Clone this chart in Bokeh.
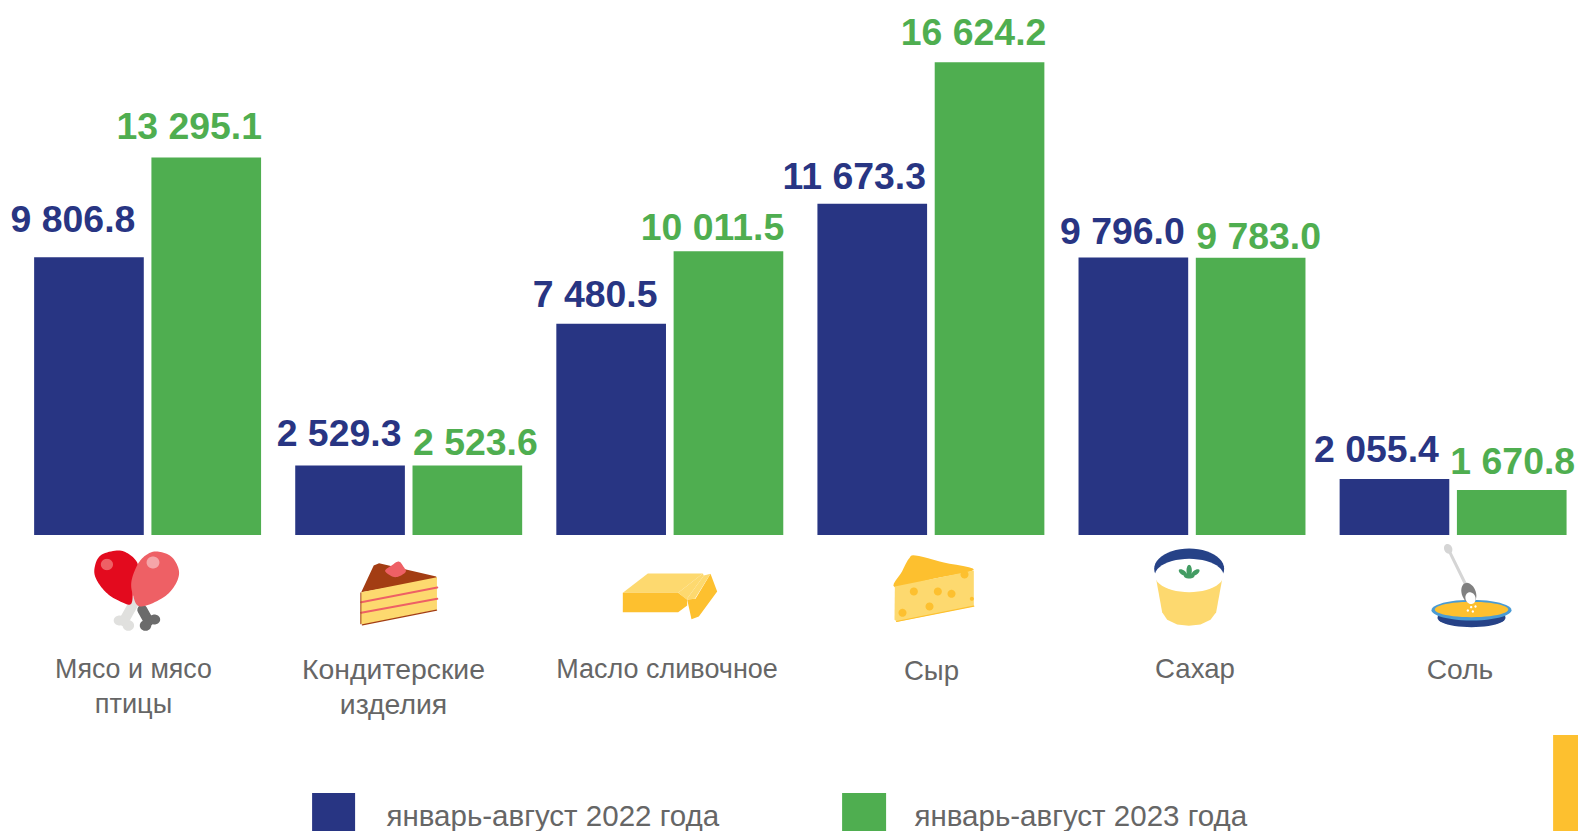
import numpy as np
from bokeh.plotting import figure
from bokeh.models import Range1d, ColumnDataSource
from bokeh.core.properties import value
from bokeh.embed import file_html
from bokeh.resources import INLINE

categories = ["Мясо и мясо птицы", "Кондитерские изделия", "Масло сливочное", "Сыр", "Сахар", "Соль"]
values_2022 = [9806.8, 2529.3, 7480.5, 11673.3, 9796.0, 2055.4]
values_2023 = [13295.1, 2523.6, 10011.5, 16624.2, 9783.0, 1670.8]
series_names = ["январь-август 2022 года", "январь-август 2023 года"]

NAVY, GREEN, YELLOW, GRAY = "#283583", "#4FAE50", "#FDC02F", "#666666"
FONT = value("Liberation Sans")
W, H = 1578, 831
ORG = 0  # page position of the figure's corner

# label nudges in px: horizontal shift from bar centre, gap above bar top
dx_22 = [-16, -11, -16, -18, -11, -18]
dy_22 = [-24, -19, -16, -14, -13, -16]
dx_23 = [-17, 8, -16, -16, 8, 1]
dy_23 = [-18, -10, -11, -16, -8, -15]
VSHIFT = -13.7  # the svg text baseline sits lower than asked

# scales: one group = 261.1 px, the axis floor (value 100) at page y 534.4
AXIS_MIN = 100
PITCH, K, BASE, CENTER0 = 261.1, 0.02861, 534.4 + 100 * 0.02861, 147.1
p = figure(width=W, height=H, output_backend="svg", toolbar_location=None,
           x_range=Range1d((ORG - CENTER0) / PITCH, (ORG + W - CENTER0) / PITCH),
           y_range=Range1d((BASE - (ORG + H)) / K, (BASE - ORG) / K),
           x_axis_location=None, y_axis_location=None, min_border=0)
p.grid.visible = False
p.outline_line_color = None
p.background_fill_color = "white"
p.extra_x_ranges["px"] = Range1d(ORG, ORG + W)
p.extra_y_ranges["px"] = Range1d(ORG + H, ORG)
PX = dict(x_range_name="px", y_range_name="px")

OFF, BW = 0.2246, 0.42
idx = np.arange(len(categories))
fmt = lambda v: f"{v:,.1f}".replace(",", " ")
for vals, off, col, dx, dy in [(values_2022, -OFF, NAVY, dx_22, dy_22), (values_2023, OFF, GREEN, dx_23, dy_23)]:
    src = ColumnDataSource(dict(x=idx + off, top=vals, label=[fmt(v) for v in vals], dx=dx,
                                dy=[d + VSHIFT for d in dy]))
    p.vbar(x="x", top="top", bottom=AXIS_MIN, width=BW, fill_color=col, line_color=None, source=src)
    p.text(x="x", y="top", text="label", x_offset="dx", y_offset="dy", source=src, text_color=col,
           text_font=FONT, text_font_style="bold", text_font_size="37.4px", text_align="center",
           text_baseline="alphabetic")

# category labels, broken over lines; the reference squeezes them, so sizes differ a little
cat_lines = [("Мясо и мясо", 133, 668, "26.8px"), ("птицы", 133, 703, "27.2px"),
             ("Кондитерские", 393, 668, "28.4px"), ("изделия", 393, 703, "28.4px"),
             ("Масло сливочное", 666.5, 668, "27px"), ("Сыр", 931, 670, "27.6px"),
             ("Сахар", 1194.5, 668, "27.6px"), ("Соль", 1459.5, 668, "28.2px")]
cat_src = ColumnDataSource(dict(x=[c[1] for c in cat_lines], y=[c[2] for c in cat_lines],
                                t=[c[0] for c in cat_lines], fs=[c[3] for c in cat_lines]))
p.text(x="x", y="y", text="t", source=cat_src, **PX, text_color=GRAY, text_font=FONT,
       text_font_size="fs", text_align="center", text_baseline="alphabetic")

# legend
p.quad(left=[311.6, 841.6], right=[354.6, 885.6], top=[792.6, 792.6], bottom=[831, 831],
       fill_color=[NAVY, GREEN], line_color=None, **PX)
p.text(x=[386, 914], y=[815, 815], text=series_names, **PX, text_color=GRAY, text_font=FONT,
       text_font_size="29.5px", text_align="left", text_baseline="alphabetic")
# yellow corner block
p.quad(left=[1552.6], right=[1578], top=[734.6], bottom=[831], fill_color=YELLOW, line_color=None, **PX)


# ---- pictograms, drawn from zoom-crop coordinates ----
def smooth(pts, n=10):
    pts = np.array(pts, float)
    out = []
    m = len(pts)
    for i in range(m):
        a, b, c, d = pts[(i - 1) % m], pts[i], pts[(i + 1) % m], pts[(i + 2) % m]
        for t in np.linspace(0, 1, n, endpoint=False):
            out.append(0.5 * (2 * b + (c - a) * t + (2 * a - 5 * b + 4 * c - d) * t ** 2 + (3 * b - a - 3 * c + d) * t ** 3))
    return np.array(out)


def ell(cx, cy, rx, ry, deg=0):
    t = np.linspace(0, 2 * np.pi, 48, endpoint=False)
    r = np.radians(deg)
    x, y = rx * np.cos(t), ry * np.sin(t)
    return np.c_[cx + x * np.cos(r) - y * np.sin(r), cy + x * np.sin(r) + y * np.cos(r)]


def mapper(sx, sy, ox, oy):
    def draw(pts, color):
        pts = np.array(pts, float)
        p.patch(ox + pts[:, 0] / sx, oy + pts[:, 1] / sy, color=color, line_width=0, **PX)
    def stroke(pts, color, w):
        pts = np.array(pts, float)
        p.line(ox + pts[:, 0] / sx, oy + pts[:, 1] / sy, color=color, line_width=w, line_cap="round", **PX)
    return draw, stroke


BONE_L, BONE_D, RED, PINK, PINK_L = "#E0E0DE", "#6B6B6B", "#E30A1E", "#EE6065", "#F5A5A8"
BROWN, CREAM, LEAF, SKY, ICE = "#A33D13", "#FDD96F", "#439C63", "#4A9BD4", "#264287"

d, s = mapper(2.8, 3, 0, 530)
# drumsticks
s([(375, 215), (345, 272)], BONE_L, 10)
d(ell(333, 270, 16, 15), BONE_L)
d(ell(358, 285, 16, 16), BONE_L)
s([(397, 238), (415, 272)], BONE_D, 10)
d(ell(431, 267, 16, 15), BONE_D)
d(ell(406, 285, 16, 16), BONE_D)
d(smooth([(330, 60), (365, 75), (385, 105), (372, 150), (367, 218), (340, 215), (300, 190), (270, 150), (263, 115), (280, 75)]), RED)
d(smooth([(440, 63), (480, 80), (500, 125), (485, 170), (450, 205), (390, 228), (370, 190), (367, 150), (385, 100), (410, 72)]), PINK)
d(ell(298, 102, 17, 17), PINK)
d(ell(427, 96, 18, 18), PINK_L)
# cake
d([(1010, 185), (1045, 105), (1060, 98), (1220, 138), (1222, 146)], BROWN)
d([(1010, 185), (1222, 140), (1222, 238), (1015, 283), (1008, 278)], CREAM)
s([(1010, 215), (1223, 171)], PINK, 2)
s([(1010, 247), (1223, 205)], PINK, 2)
s([(1013, 283), (1221, 239)], BROWN, 1.2)
s([(1009, 187), (1009, 280)], BROWN, 1)
d(smooth([(1077, 122), (1095, 105), (1115, 93), (1128, 108), (1134, 125), (1105, 140)]), PINK)

d, s = mapper(3, 3, 560, 530)
# butter
d([(187, 187), (262, 129), (427, 129), (353, 187)], CREAM)
d([(187, 187), (353, 187), (380, 207), (380, 225), (353, 245), (187, 245)], YELLOW)
d([(380, 207), (405, 205), (450, 130), (470, 183), (415, 258), (393, 266)], YELLOW)
d([(353, 187), (427, 129), (430, 135), (378, 207)], CREAM)
d([(378, 207), (430, 135), (450, 130), (403, 205)], CREAM)
# cheese
d(smooth([(1003, 170), (1025, 122), (1045, 85), (1065, 75), (1150, 96), (1240, 118), (1120, 145)], 6), YELLOW)
d([(1003, 168), (1240, 120), (1240, 227), (1010, 274), (1002, 268)], CREAM)
s([(1008, 273), (1240, 227)], YELLOW, 1.2)
for cx, cy, r in [(1060, 183, 12), (1132, 183, 12), (1173, 190, 12), (1107, 228, 12), (1026, 247, 12), (1212, 132, 12), (1234, 205, 6)]:
    d(ell(cx, cy, r, r), YELLOW)

d, s = mapper(3, 3, 1060, 530)
# sugar bowl
d([(285, 135), (487, 135), (467, 245), (450, 268), (420, 282), (385, 286), (350, 282), (320, 268), (305, 245)], CREAM)
d(ell(386, 115, 105, 61), ICE)
d(ell(386, 135, 103, 50), "white")
d(ell(386, 120, 8, 17), LEAF)
d(ell(367, 126, 14, 7, 35), LEAF)
d(ell(405, 126, 14, 7, -35), LEAF)
d(ell(386, 136, 16, 8), LEAF)
# salt plate
d(ell(1233, 262, 102, 28), ICE)
d(ell(1233, 239, 120, 31), SKY)
d(ell(1233, 237, 110, 23), YELLOW)
s([(1163, 55), (1217, 165)], "#D5D5D5", 3)
d(ell(1163, 55, 12, 15, -25), "#D5D5D5")
d(ell(1225, 188, 21, 32, -20), "#808080")
d(ell(1230, 203, 15, 18, -20), "white")
for cx, cy in [(1222, 240), (1237, 243), (1232, 230), (1245, 228)]:
    d(ell(cx, cy, 3.5, 3.5), "white")

open("out.html", "w").write(file_html(p, INLINE))
